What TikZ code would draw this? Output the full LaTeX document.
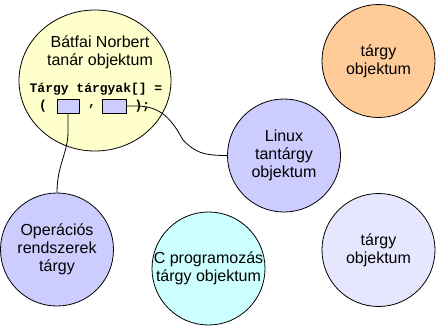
\documentclass[tikz,border=0pt]{standalone}
\usepackage{fontspec}
\setmainfont{Liberation Sans}
\setmonofont{Liberation Mono}
\usetikzlibrary{shapes.geometric, arrows}

\definecolor{yellowobj}{HTML}{FFFFCC}
\definecolor{orangeobj}{HTML}{FFCC99}
\definecolor{lilacobj}{HTML}{CCCCFF}
\definecolor{cyanobj}{HTML}{CCFFFF}
\definecolor{paleobj}{HTML}{E6E6FF}

\tikzstyle{object} = [circle, minimum size=113pt, inner sep=-4pt, text centered, align=center, draw=black, line width=0.8pt, font=\fontsize{16}{18}\selectfont]
\tikzstyle{slot} = [rectangle, minimum height=14pt, inner sep=0pt, draw=black, line width=0.9pt, fill=lilacobj]
\tikzstyle{code} = [inner sep=0pt, font=\ttfamily\bfseries\fontsize{13}{15}\selectfont]
\tikzstyle{link} = [line width=0.8pt]

\begin{document}
\begin{tikzpicture}[x=1pt, y=-1pt]
\useasboundingbox (0,0) rectangle (437,327);
% teacher object with its array of references
\node (teacher) [ellipse, minimum width=152pt, minimum height=141pt, draw=black, line width=0.8pt, fill=yellowobj] at (95,80.5) {};
\node (name) [align=center, font=\fontsize{16}{18}\selectfont] at (100,52.5) {Bátfai Norbert\\tanár objektum};
\node (decl) [code] at (96,89.5) {Tárgy tárgyak[] =};
\node (open) [code] at (43,106.5) {(};
\node (slot1) [slot, minimum width=22pt] at (68,106) {};
\node (comma) [code] at (92,107) {,};
\node (slot2) [slot, minimum width=24pt] at (114,106) {};
\node (close) [code] at (142.5,106.5) {);};
% the other objects
\node (orange) [object, fill=orangeobj] at (378.5,61) {tárgy\\objektum};
\node (linux) [object, fill=lilacobj] at (284,155.5) {Linux\\tantárgy\\objektum};
\node (os) [object, fill=lilacobj] at (57,249.5) {Operációs\\rendszerek\\tárgy};
\node (cprog) [object, fill=cyanobj] at (208.5,268.5) {C programozás\\tárgy objektum};
\node (spare) [object, fill=paleobj] at (378.5,250) {tárgy\\objektum};
% references
\draw [link] (slot2.east) -- ++(12,0) .. controls +(22,1) and +(-12,-22) .. (183,140) .. controls +(12,12) and +(-25,0) .. (linux.west);
\draw [link] (slot1.south) -- ++(0,18) .. controls +(0,22) and +(0,-28) .. (os.north);
\end{tikzpicture}
\end{document}
